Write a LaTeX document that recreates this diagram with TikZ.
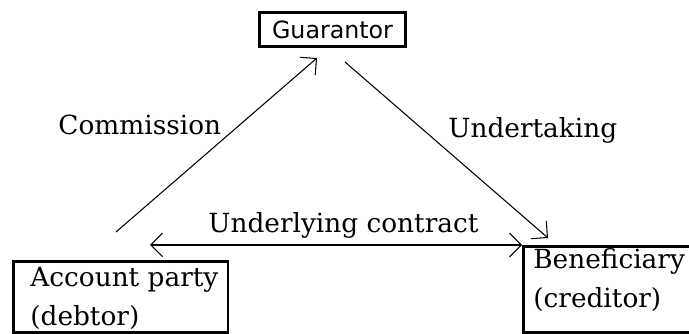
\documentclass[tikz,border=0pt]{standalone}
\usepackage{fontspec}
\setmainfont{DejaVu Serif}
\newfontfamily\guarfont{DejaVu Sans}
\usepackage{tikz}
\usetikzlibrary{arrows.meta}

\tikzset{
  party/.style={draw,line width=1.7pt,inner sep=0pt},
  lbl/.style={inner sep=0pt,font=\fontsize{15}{22.2}\selectfont},
  flow/.style={line width=0.6pt},
  barb/.tip={Straight Barb[angle=90:9.5pt]},
}

\begin{document}
\begin{tikzpicture}
  \useasboundingbox (0,0) rectangle (13.78,6.68);
  \clip (0,0) rectangle (13.78,6.68);
  \node[party,minimum width=2.92cm,minimum height=0.68cm,font=\guarfont\fontsize{13.5}{16}\selectfont] (guar) at (6.65,6.09) {Guarantor};
  \node[party,minimum width=4.29cm,minimum height=1.42cm] (acct) at (2.415,0.74) {};
  \node[party,minimum width=3.534cm,minimum height=1.716cm] (benef) at (12.233,0.888) {};
  \node[lbl,align=left,anchor=north west] (acct text) at (0.6,1.34) {Account party\\(debtor)};
  \node[lbl,align=left,anchor=north west] (benef text) at (10.66,1.71) {Beneficiary\\(creditor)};
  \coordinate (comm a) at (2.32,2.04);
  \coordinate (comm b) at (6.34,5.52);
  \coordinate (und a) at (6.90,5.44);
  \coordinate (und b) at (10.96,1.92);
  \coordinate (uc a) at (3.0,1.78);
  \coordinate (uc b) at (10.44,1.78);
  \draw[flow,-barb] (comm a) -- (comm b);
  \draw[flow,-barb] (und a) -- (und b);
  \draw[flow,barb-barb] (uc a) -- (uc b);
  \node[lbl,anchor=base west] (comm) at (1.16,3.98) {Commission};
  \node[lbl,anchor=base west] (und) at (8.96,3.92) {Undertaking};
  \node[lbl,anchor=base west] (uc) at (4.16,2.02) {Underlying contract};
\end{tikzpicture}
\end{document}
